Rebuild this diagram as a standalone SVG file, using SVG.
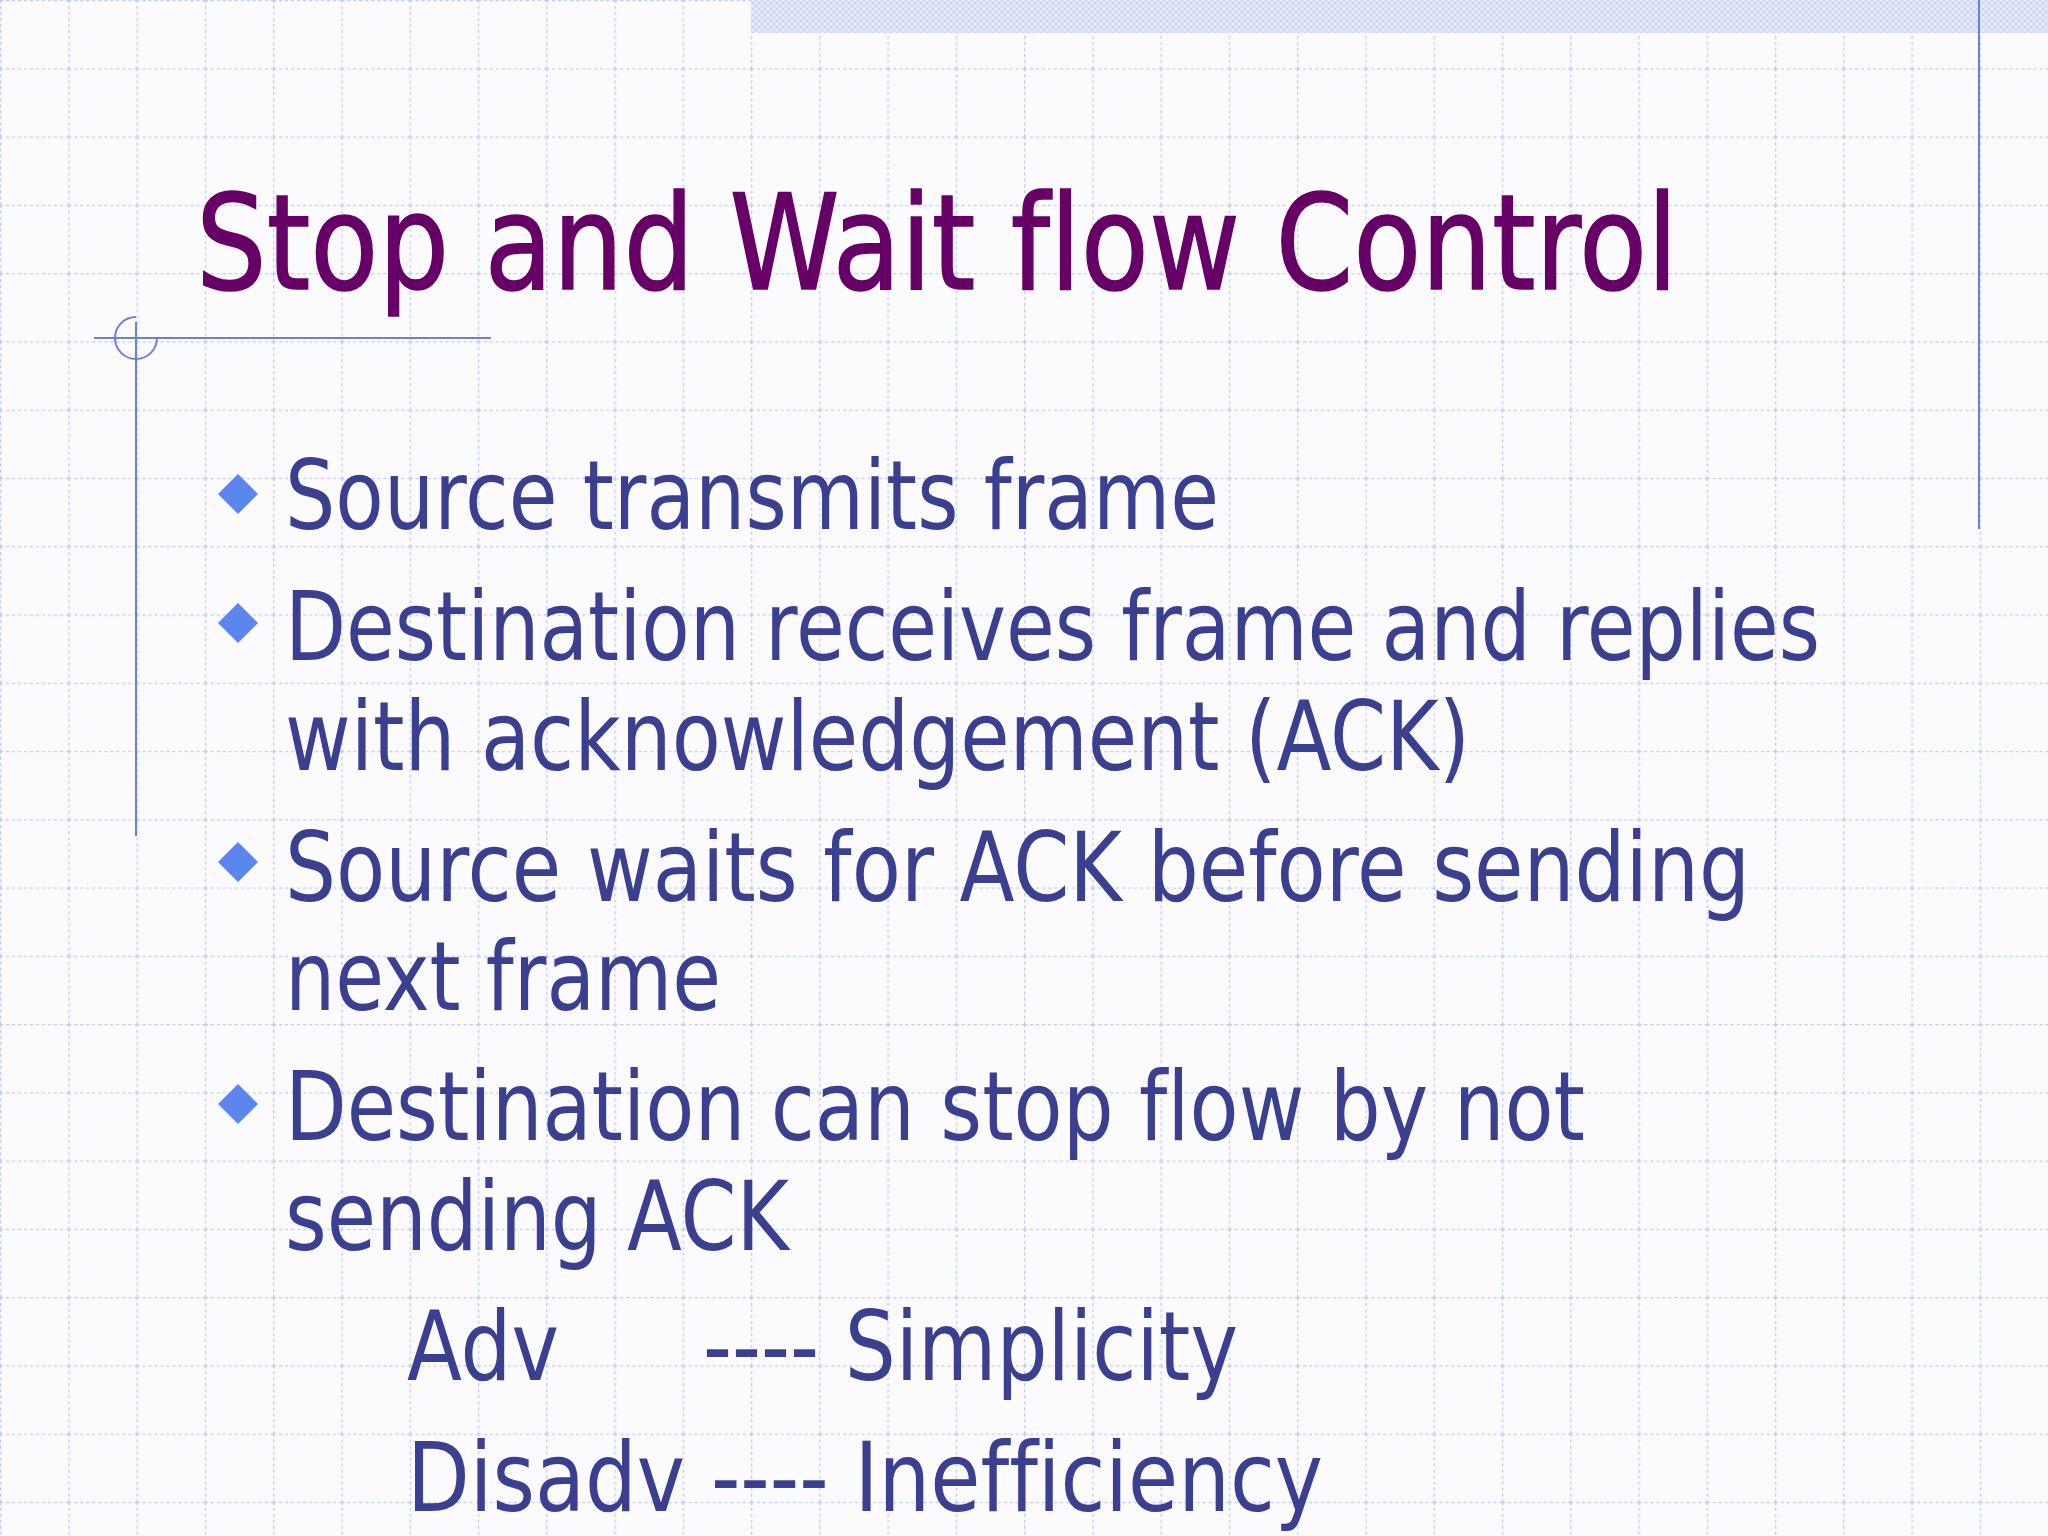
<svg xmlns="http://www.w3.org/2000/svg" width="2048" height="1536" viewBox="0 0 2048 1536">
<defs>
<pattern id="grid" width="68.267" height="68.267" patternUnits="userSpaceOnUse" x="0" y="0">
<path d="M0 0.5H68.267M0.5 0V68.267" stroke="#bccbf5" stroke-width="1.6" stroke-dasharray="3 3" fill="none"/>
</pattern>
<pattern id="band" width="6" height="6" patternUnits="userSpaceOnUse">
<rect width="6" height="6" fill="#e4e9fb"/>
<path d="M0 0L6 6M6 0L0 6" stroke="#c5d0f4" stroke-width="1"/>
</pattern>
<style>
text{font-variant-ligatures:none}
.b{font-family:"DejaVu Sans",Verdana,sans-serif;font-size:96px;fill:#3b3f8f}
.d{fill:#5b86ee}
</style>
</defs>
<rect width="2048" height="1536" fill="#fbfbfd"/>
<rect width="2048" height="1536" fill="url(#grid)"/>
<rect x="751" y="0" width="1297" height="33" fill="url(#band)"/>
<g stroke="#6b7fe0" stroke-width="2" fill="none">
<line x1="1979" y1="0" x2="1979" y2="529"/>
<line x1="94" y1="338" x2="491" y2="338"/>
<line x1="136" y1="322" x2="136" y2="836"/>
<path d="M157 338A21 21 0 1 1 136 317"/>
</g>
<text x="196" y="289" font-family="DejaVu Sans,Verdana,sans-serif" font-size="132" fill="#660066" stroke="#660066" stroke-width="1.5" textLength="1482" lengthAdjust="spacingAndGlyphs">Stop and Wait flow Control</text>
<g id="bullets">
<path class="d" d="M238 474l20 20-20 20-20-20z"/>
<path class="d" d="M238 603l20 20-20 20-20-20z"/>
<path class="d" d="M238 842l20 20-20 20-20-20z"/>
<path class="d" d="M238 1084l20 20-20 20-20-20z"/>
</g>
<g id="text">
<text class="b" x="285" y="529" textLength="934" lengthAdjust="spacingAndGlyphs">Source transmits frame</text>
<text class="b" x="285" y="660" textLength="1535" lengthAdjust="spacingAndGlyphs">Destination receives frame and replies</text>
<text class="b" x="285" y="770" textLength="1185" lengthAdjust="spacingAndGlyphs">with acknowledgement (ACK)</text>
<text class="b" x="285" y="901" textLength="1465" lengthAdjust="spacingAndGlyphs">Source waits for ACK before sending</text>
<text class="b" x="285" y="1010" textLength="436" lengthAdjust="spacingAndGlyphs">next frame</text>
<text class="b" x="285" y="1140" textLength="1300" lengthAdjust="spacingAndGlyphs">Destination can stop flow by not</text>
<text class="b" x="285" y="1250" textLength="504" lengthAdjust="spacingAndGlyphs">sending ACK</text>
<text class="b" x="407" y="1380" textLength="152" lengthAdjust="spacingAndGlyphs">Adv</text>
<text class="b" x="703" y="1380" textLength="535" lengthAdjust="spacingAndGlyphs">---- Simplicity</text>
<text class="b" x="407" y="1511" textLength="916" lengthAdjust="spacingAndGlyphs">Disadv ---- Inefficiency</text>
</g>
</svg>
